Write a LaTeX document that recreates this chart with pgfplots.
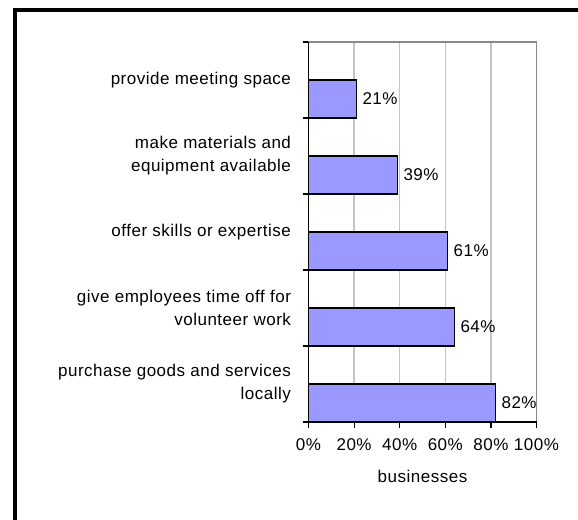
\documentclass[border=0pt]{standalone}
\usepackage{fontspec}
\setmainfont{Liberation Sans}[LetterSpace=3]
\usepackage{pgfplots}
\pgfplotsset{compat=1.18}
\definecolor{barblue}{RGB}{153,153,255}
\definecolor{gridgray}{RGB}{196,196,196}
\definecolor{boxgray}{RGB}{136,136,136}
\newcommand{\chartfont}{\fontsize{17bp}{23bp}\selectfont}
\begin{document}
\begin{tikzpicture}
\useasboundingbox (0,0) rectangle (578bp,-520bp);
% outer frame (cropped at right and bottom)
\draw[line width=4bp] (15bp,-530bp) -- (15bp,-10bp) -- (590bp,-10bp);
\begin{axis}[
    at={(308.5bp,-42bp)}, anchor=north west,
    scale only axis, width=228bp, height=380bp,
    xbar, bar width=0.5,
    xmin=0, xmax=100, ymin=0, ymax=5, y dir=reverse,
    clip=false,
    axis line style={draw=boxgray, line width=1.5bp},
    xtick={0,20,...,100},
    xticklabel={\pgfmathprintnumber{\tick}\%},
    /pgf/number format/assume math mode=true,
    xtick pos=bottom, ytick pos=left,
    tick align=outside,
    major tick length=6bp,
    tick style={black, line width=1.2bp},
    ytick={0,...,5}, yticklabels={},
    extra y ticks={0.5,1.5,2.5,3.5,4.5},
    extra y tick labels={provide meeting space,
        {make materials and\\equipment available},
        offer skills or expertise,
        {give employees time off for\\volunteer work},
        {purchase goods and services\\locally}},
    extra y tick style={major tick length=0pt, ymajorgrids=false},
    yticklabel style={font=\chartfont, align=right, xshift=-14bp},
    xticklabel style={font=\chartfont, yshift=-7bp},
    xmajorgrids, major grid style={gridgray, line width=1.5bp},
    xlabel={businesses},
    xlabel style={font=\chartfont, yshift=-13bp},
    point meta=x,
    nodes near coords={\pgfmathprintnumber{\pgfplotspointmeta}\%},
    nodes near coords style={font=\chartfont, black, xshift=2bp},
]
\addplot[fill=barblue, draw=black, line width=1.6bp] coordinates {
    (21,0.75) (39,1.75) (61,2.75) (64,3.75) (82,4.75)};
\draw[black, line width=1.5bp] (axis cs:0,0) -- (axis cs:0,5) -- (axis cs:100,5);
\end{axis}
\end{tikzpicture}
\end{document}
